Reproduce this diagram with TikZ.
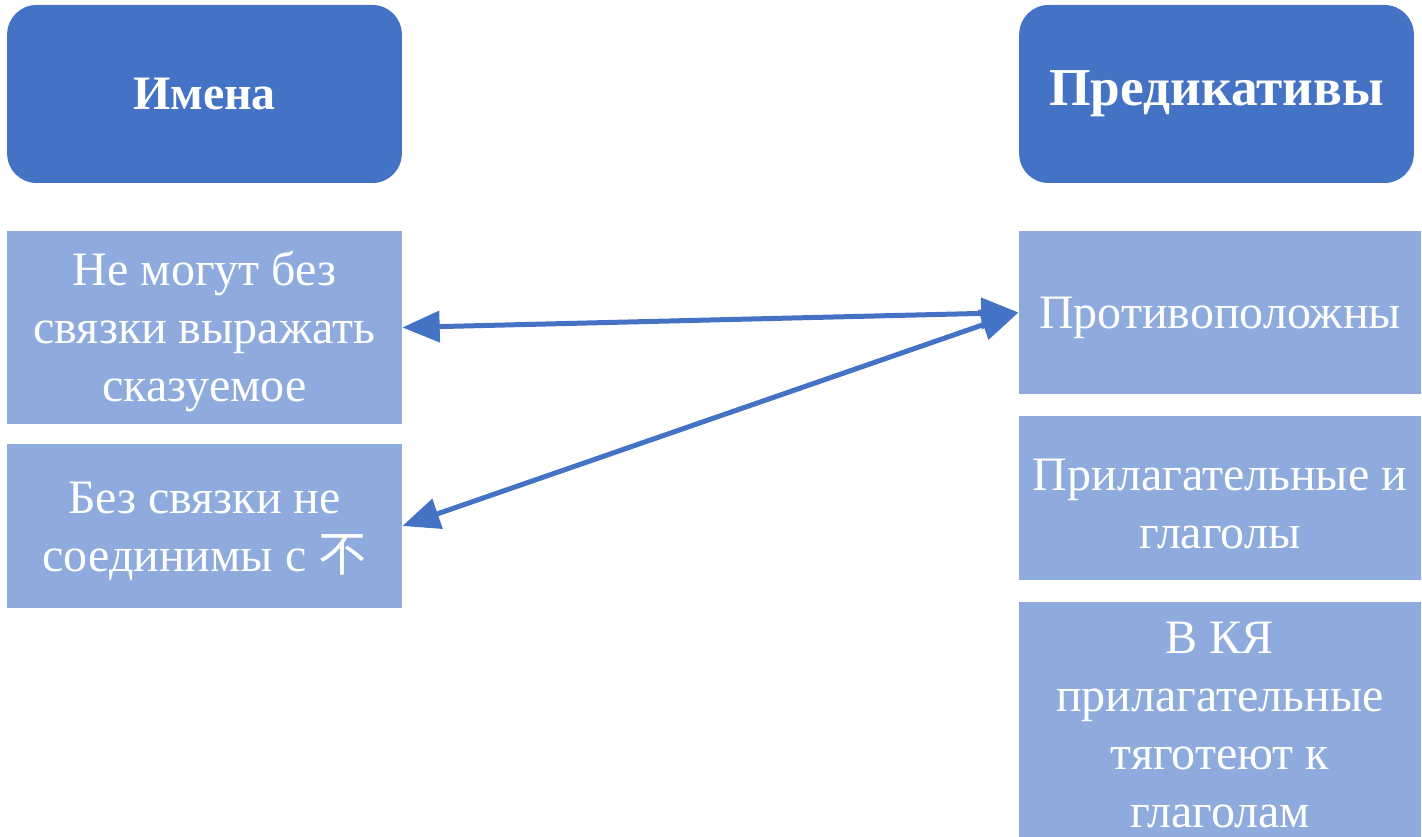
\documentclass[tikz,border=0pt]{standalone}
\usepackage{fontspec}
\setmainfont{Liberation Serif}
\newfontfamily\cjkfont{Noto Sans CJK SC}
\usepackage{tikz}
\usetikzlibrary{arrows.meta}
\tikzset{every picture/.style={line width=0.75pt}}
\definecolor{headblue}{HTML}{4472C4}
\definecolor{itemblue}{HTML}{8FAADC}
\tikzset{
  headbox/.style={draw=none,fill=headblue,rounded corners=22pt,text=white,
    minimum width=296pt,minimum height=133.5pt,align=center,
    font=\fontsize{36}{43.5}\selectfont\bfseries},
  itembox/.style={draw=none,fill=itemblue,text=white,inner sep=0pt,
    align=center,font=\fontsize{36}{43.5}\selectfont,
    execute at begin node={\spaceskip=9pt\xspaceskip=9pt\leavevmode\rule{0pt}{32pt}}},
  link/.style={draw=headblue,line width=3.75pt,
    {Triangle[length=28pt,width=23pt]}-{Triangle[length=28pt,width=23pt]}}
}

\begin{document}
\begin{tikzpicture}[x=0.75pt,y=0.75pt,yscale=-1,xscale=1]
%set diagram left start at 0, and has height of 837
\useasboundingbox (0,0) rectangle (1422,837);

% Headers
\node [headbox] (names) at (204.5,94) {Имена};
\node [headbox,font=\fontsize{40}{48}\selectfont\bfseries] (preds) at (1216.5,94) {Предикативы};

% Left column
\node [itembox,minimum width=296pt,minimum height=144.75pt,text width=290pt] (noncop) at (204.5,327.5)
  {Не могут без\\связки выражать\\сказуемое};
\node [itembox,minimum width=296pt,minimum height=123pt,text width=290pt] (nobu) at (204.5,526)
  {Без связки не\\соединимы с {\cjkfont 不}};

% Right column
\node [itembox,minimum width=301.5pt,minimum height=122.25pt,text width=296pt] (oppos) at (1220,312.5)
  {Противоположны};
\node [itembox,minimum width=301.5pt,minimum height=123pt,text width=296pt] (adjverb) at (1220,498)
  {Прилагательные и\\глаголы};
\node [itembox,minimum width=301.5pt,minimum height=176.25pt,text width=296pt] (cnlang) at (1220,719.5)
  {В КЯ\\прилагательные\\тяготеют к\\глаголам};

% Connectors
\draw [link] (oppos.west) -- (noncop.east);
\draw [link] (oppos.west) -- (nobu.east);

\end{tikzpicture}
\end{document}
